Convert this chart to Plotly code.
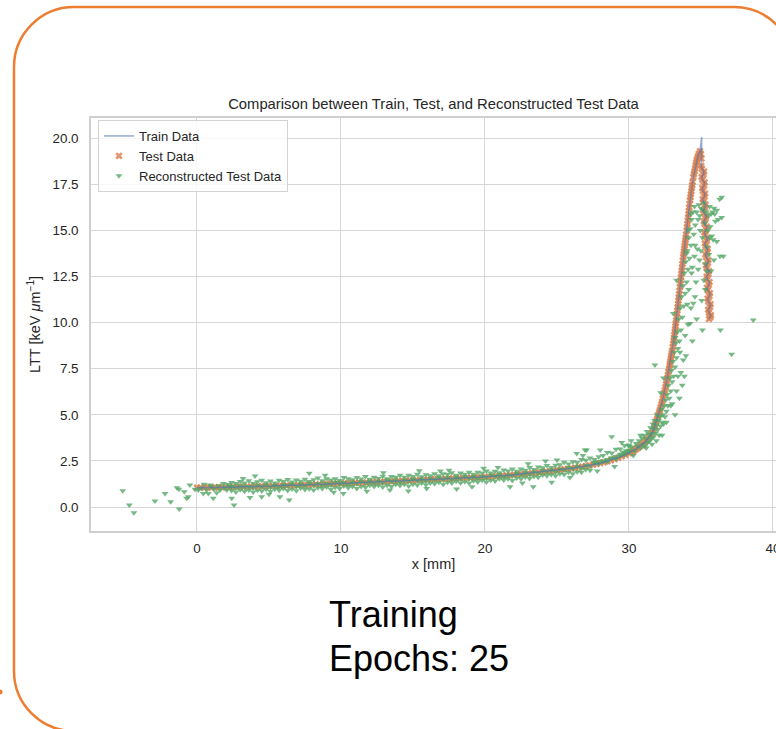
import plotly.graph_objects as go

# ---- LTT depth profile: entrance plateau up to the Bragg peak ----
curve_depth = [
    0.0, 0.25, 0.5, 0.75, 1.0, 1.25, 1.5, 1.75, 2.0,
    2.25, 2.5, 2.75, 3.0, 3.25, 3.5, 3.75, 4.0,
    4.25, 4.5, 4.75, 5.0, 5.25, 5.5, 5.75, 6.0,
    6.25, 6.5, 6.75, 7.0, 7.25, 7.5, 7.75, 8.0,
    8.25, 8.5, 8.75, 9.0, 9.25, 9.5, 9.75, 10.0,
    10.25, 10.5, 10.75, 11.0, 11.25, 11.5, 11.75, 12.0,
    12.25, 12.5, 12.75, 13.0, 13.25, 13.5, 13.75, 14.0,
    14.25, 14.5, 14.75, 15.0, 15.25, 15.5, 15.75, 16.0,
    16.25, 16.5, 16.75, 17.0, 17.25, 17.5, 17.75, 18.0,
    18.25, 18.5, 18.75, 19.0, 19.25, 19.5, 19.75, 20.0,
    20.25, 20.5, 20.75, 21.0, 21.25, 21.5, 21.75, 22.0,
    22.25, 22.5, 22.75, 23.0, 23.25, 23.5, 23.75, 24.0,
    24.25, 24.5, 24.75, 25.0,
    25.25, 25.5, 25.75, 26.0,
    26.25, 26.5, 26.75, 27.0,
    27.25, 27.5, 27.75, 28.0,
    28.25, 28.5, 28.75, 29.0,
    29.25, 29.5, 29.75, 30.0,
    30.1, 30.2, 30.3, 30.4, 30.5, 30.6, 30.7, 30.8, 30.9, 31.0,
    31.1, 31.2, 31.3, 31.4, 31.5, 31.6, 31.7,
    31.75, 31.8, 31.85, 31.9, 31.95, 32.0, 32.05, 32.1, 32.15,
    32.2, 32.25, 32.3, 32.35, 32.4, 32.45, 32.5,
    32.54, 32.58, 32.62, 32.66, 32.7, 32.74, 32.78, 32.82, 32.85,
    32.88, 32.91, 32.94, 32.97, 33.0, 33.04, 33.08,
    33.105, 33.13, 33.155, 33.18, 33.205, 33.23, 33.255, 33.28, 33.31,
    33.335, 33.36, 33.385, 33.41, 33.435, 33.46, 33.485, 33.51, 33.54,
    33.565, 33.59, 33.615, 33.64, 33.665, 33.69, 33.715, 33.74, 33.77,
    33.795, 33.82, 33.845, 33.87, 33.895, 33.92, 33.945, 33.97, 34.01,
    34.035, 34.06, 34.085, 34.11, 34.135, 34.16, 34.185, 34.21, 34.24,
    34.27, 34.3, 34.33, 34.36, 34.39, 34.42, 34.47,
    34.51, 34.55, 34.59, 34.63, 34.67, 34.7,
    34.75, 34.8, 34.86, 34.93,
]
curve_ltt = [
    1.05, 1.05, 1.06, 1.06, 1.06, 1.07, 1.07, 1.08, 1.08,
    1.08, 1.09, 1.09, 1.10, 1.10, 1.11, 1.11, 1.12,
    1.12, 1.13, 1.13, 1.14, 1.14, 1.15, 1.15, 1.16,
    1.17, 1.17, 1.18, 1.19, 1.20, 1.20, 1.21, 1.22,
    1.23, 1.23, 1.24, 1.25, 1.26, 1.26, 1.27, 1.28,
    1.29, 1.29, 1.30, 1.31, 1.32, 1.32, 1.33, 1.34,
    1.35, 1.36, 1.36, 1.37, 1.38, 1.39, 1.40, 1.41,
    1.42, 1.43, 1.44, 1.45, 1.46, 1.47, 1.48, 1.49,
    1.50, 1.51, 1.51, 1.52, 1.53, 1.54, 1.55, 1.56,
    1.57, 1.58, 1.58, 1.59, 1.60, 1.61, 1.62, 1.63,
    1.64, 1.66, 1.67, 1.69, 1.70, 1.72, 1.73, 1.75,
    1.77, 1.78, 1.80, 1.82, 1.84, 1.86, 1.88, 1.90,
    1.92, 1.95, 1.97, 2.00,
    2.02, 2.05, 2.07, 2.10,
    2.13, 2.16, 2.19, 2.22,
    2.26, 2.30, 2.34, 2.38,
    2.43, 2.48, 2.54, 2.60,
    2.67, 2.75, 2.83, 2.92,
    2.96, 3.00, 3.05, 3.10, 3.15, 3.21, 3.26, 3.32, 3.38, 3.45,
    3.53, 3.61, 3.70, 3.80, 3.90, 4.03, 4.17,
    4.29, 4.41, 4.53, 4.65, 4.77, 4.89, 5.01, 5.14, 5.26,
    5.41, 5.57, 5.72, 5.88, 6.03, 6.19, 6.34,
    6.51, 6.67, 6.84, 7.00, 7.17, 7.34, 7.50, 7.67, 7.79,
    7.93, 8.07, 8.21, 8.35, 8.49, 8.68, 8.87,
    9.03, 9.18, 9.34, 9.50, 9.65, 9.81, 9.97, 10.12, 10.31,
    10.49, 10.66, 10.84, 11.02, 11.20, 11.37, 11.55, 11.73, 11.94,
    12.12, 12.29, 12.47, 12.65, 12.83, 13.00, 13.18, 13.36, 13.57,
    13.72, 13.87, 14.02, 14.17, 14.32, 14.47, 14.62, 14.77, 15.00,
    15.18, 15.36, 15.53, 15.71, 15.89, 16.07, 16.25, 16.43, 16.64,
    16.80, 16.97, 17.13, 17.30, 17.46, 17.63, 17.90,
    18.06, 18.21, 18.37, 18.53, 18.68, 18.80,
    18.93, 19.05, 19.17, 19.30,
]

# spike of the training profile right at the peak
spike_depth = [35.05]
spike_ltt = [20.07]

# distal fall-off band behind the peak
tail_depth = [
    35.0, 35.03, 35.02, 35.21, 35.05, 35.25, 35.09, 35.28, 35.12, 35.32,
    35.15, 35.36, 35.2, 35.4, 35.24, 35.44, 35.27, 35.47, 35.31, 35.51,
    35.35, 35.55, 35.39, 35.59, 35.42, 35.62, 35.46, 35.66, 35.5, 35.69,
    35.56,
]
tail_ltt = [
    19.15, 18.9, 18.5, 18.2, 17.9, 17.6, 17.3, 17.0, 16.7, 16.4,
    16.1, 15.8, 15.5, 15.2, 14.9, 14.6, 14.3, 14.0, 13.7, 13.4,
    13.1, 12.8, 12.5, 12.2, 11.9, 11.6, 11.3, 11.0, 10.7, 10.4,
    10.2,
]
# further samples inside the fall-off band
tail_fill_depth = [
    35.06, 35.18, 35.10, 35.22, 35.13, 35.25, 35.17, 35.29, 35.21, 35.33,
    35.25, 35.37, 35.29, 35.41, 35.32, 35.44, 35.36, 35.48, 35.40, 35.52,
    35.44, 35.55, 35.47, 35.59, 35.51, 35.63, 35.55, 35.65,
]
tail_fill_ltt = [
    18.35, 18.05, 17.75, 17.45, 17.15, 16.85, 16.55, 16.25, 15.95, 15.65,
    15.35, 15.05, 14.75, 14.45, 14.15, 13.85, 13.55, 13.25, 12.95, 12.65,
    12.35, 12.05, 11.75, 11.45, 11.15, 10.85, 10.55, 10.30,
]

# ---- reconstructed test data ----
# dense band along the plateau (three rows: above, on and below the profile)
band_depth = [
    2.4, 2.7, 3.0, 3.3, 3.6, 3.9, 4.2, 4.5, 4.8, 5.1,
    5.4, 5.7, 6.0, 6.3, 6.6, 6.9, 7.2, 7.5, 7.8, 8.1,
    8.4, 8.7, 9.0, 9.3, 9.6, 9.9, 10.2, 10.5, 10.8, 11.1,
    11.4, 11.7, 12.0, 12.3, 12.6, 12.9, 13.2, 13.5, 13.8, 14.1,
    14.4, 14.7, 15.0, 15.3, 15.6, 15.9, 16.2, 16.5, 16.8, 17.1,
    17.4, 17.7, 18.0, 18.3, 18.6, 18.9, 19.2, 19.5, 19.8, 20.1,
    20.4, 20.7, 21.0, 21.3, 21.6, 21.9, 22.2, 22.5, 22.8, 23.1,
    23.4, 23.7, 24.0, 24.3, 24.6, 24.9, 25.2, 25.5, 25.8, 26.1,
    26.4, 26.7, 27.0, 27.3, 27.6, 27.9, 28.2, 28.5, 28.8, 29.1,
    29.4, 29.7, 30.0,
]
band_upper = [
    1.33, 1.27, 1.38, 1.30, 1.42, 1.29, 1.37, 1.45, 1.32, 1.41,
    1.31, 1.45, 1.38, 1.50, 1.36, 1.47, 1.40, 1.51, 1.38, 1.48,
    1.57, 1.43, 1.54, 1.47, 1.54, 1.44, 1.60, 1.53, 1.48, 1.60,
    1.52, 1.65, 1.51, 1.61, 1.55, 1.67, 1.54, 1.66, 1.62, 1.72,
    1.61, 1.72, 1.65, 1.78, 1.64, 1.75, 1.69, 1.81, 1.70, 1.81,
    1.77, 1.86, 1.73, 1.84, 1.78, 1.89, 1.78, 1.89, 1.84, 1.95,
    1.84, 1.94, 1.86, 2.01, 1.96, 2.06, 1.94, 2.06, 2.00, 2.14,
    2.04, 2.17, 2.13, 2.25, 2.14, 2.27, 2.30, 2.43, 2.33, 2.46,
    2.42, 2.58, 2.54, 2.66, 2.58, 2.73, 2.79, 2.96, 2.93, 3.13,
    3.15, 3.34, 3.37,
]
band_mid = [
    1.12, 1.04, 1.16, 1.08, 1.12, 1.05, 1.17, 1.10, 1.20, 1.09,
    1.17, 1.09, 1.20, 1.16, 1.24, 1.12, 1.23, 1.16, 1.29, 1.20,
    1.27, 1.18, 1.26, 1.21, 1.34, 1.25, 1.34, 1.22, 1.32, 1.27,
    1.38, 1.31, 1.38, 1.29, 1.39, 1.32, 1.45, 1.38, 1.45, 1.34,
    1.45, 1.40, 1.51, 1.43, 1.51, 1.43, 1.53, 1.46, 1.59, 1.51,
    1.59, 1.48, 1.58, 1.53, 1.64, 1.56, 1.64, 1.55, 1.65, 1.59,
    1.72, 1.65, 1.74, 1.64, 1.74, 1.70, 1.82, 1.75, 1.84, 1.77,
    1.88, 1.83, 1.98, 1.91, 2.01, 1.91, 2.05, 2.01, 2.15, 2.08,
    2.20, 2.11, 2.26, 2.22, 2.40, 2.34, 2.48, 2.44, 2.64, 2.60,
    2.79, 2.83, 2.98,
]
band_lower = [
    0.90, 0.82, 0.94, 0.86, 0.93, 0.81, 0.91, 0.87, 0.97, 0.85,
    0.96, 0.91, 1.01, 0.89, 0.98, 0.88, 1.03, 0.95, 0.99, 0.93,
    1.05, 1.00, 1.09, 0.96, 1.07, 1.01, 1.14, 1.04, 1.11, 1.00,
    1.11, 1.07, 1.18, 1.11, 1.18, 1.08, 1.18, 1.12, 1.24, 1.17,
    1.24, 1.14, 1.24, 1.20, 1.31, 1.21, 1.30, 1.26, 1.35, 1.23,
    1.35, 1.31, 1.40, 1.30, 1.37, 1.30, 1.42, 1.36, 1.45, 1.36,
    1.45, 1.41, 1.53, 1.47, 1.53, 1.44, 1.58, 1.53, 1.63, 1.55,
    1.65, 1.62, 1.74, 1.69, 1.77, 1.70, 1.81, 1.77, 1.88, 1.81,
    1.92, 1.89, 2.03, 2.00, 2.40, 2.45, 2.50, 2.58, 2.66, 2.74,
    2.86, 2.97, 3.08,
]

# sparse points before / at the entrance
sparse_depth = [
    -5.16, -4.70, -4.38, -2.92, -2.22, -1.83, -1.23, -1.39, -1.25, -0.88,
    -0.72, -0.60, -0.49, -0.14, 0.09, 0.44, 0.49, 0.67, 0.79, 1.02,
    1.13, 1.37, 1.60, 1.83, 2.06, 2.29, 1.20, 1.50, 0.30, 0.90,
    1.90, 2.15,
]
sparse_ltt = [
    0.88, 0.11, -0.31, 0.33, 0.74, 0.29, -0.11, 1.05, 0.97, 0.83,
    0.47, 0.56, 1.19, 0.96, 0.92, 0.74, 1.23, 0.92, 0.74, 1.10,
    0.47, 0.78, 0.92, 1.28, 0.92, 1.10, 0.98, 1.15, 1.02, 1.20,
    1.05, 1.22,
]

# stray points around the plateau band
stray_depth = [
    2.41, 2.57, 3.68, 4.49, 5.76, 6.41, 7.80, 4.03, 10.16, 12.94,
    15.44, 14.68, 13.40, 15.95, 18.03, 21.74, 23.35, 24.63, 26.37, 27.06,
    26.94, 28.80, 3.20, 5.00, 8.90, 11.80, 16.90, 19.10, 20.90, 22.60,
    24.20, 25.90, 26.80, 28.00, 29.50, 9.50, 17.50, 19.90, 23.00, 25.00,
    27.80, 29.00,
]
stray_ltt = [
    0.47, 0.11, 0.52, 0.56, 0.56, 0.38, 1.83, 1.68, 0.74, 1.86,
    1.97, 0.87, 0.92, 1.01, 0.98, 1.10, 1.10, 1.34, 2.91, 3.09,
    3.09, 3.81, 1.55, 0.70, 1.72, 0.85, 1.95, 1.10, 2.15, 1.30,
    2.50, 1.60, 2.80, 3.10, 3.50, 0.80, 2.00, 2.10, 2.35, 2.55,
    1.95, 2.20,
]

# rising edge, peak and fall-off region
peak_depth = [
    30.2, 30.4, 30.5, 30.6, 30.7, 30.8, 30.9, 31.0, 31.05, 31.1,
    31.2, 31.25, 31.3, 31.4, 31.45, 31.5, 31.55, 31.6, 31.65, 31.7,
    31.75, 31.8, 31.85, 31.9, 31.95, 32.0, 32.05, 32.1, 32.15, 32.2,
    32.25, 32.3, 32.35, 32.4, 32.45, 32.5, 32.55, 32.6, 32.65, 32.7,
    32.75, 32.8, 32.85, 32.9, 32.95, 33.0, 33.05, 33.1, 33.15, 33.2,
    33.25, 33.3, 33.35, 33.4, 33.45, 33.5, 33.55, 33.6, 33.65, 33.7,
    33.75, 33.8, 33.85, 33.9, 33.95, 34.0, 34.05, 34.1, 34.15, 34.2,
    34.25, 34.3, 34.35, 34.4, 34.45, 34.5, 34.55, 34.6, 34.65, 34.7,
    34.75, 34.8, 34.85, 34.9, 34.95, 35.0, 35.05, 35.1, 35.15, 35.2,
    35.25, 35.3, 35.35, 35.4, 35.45, 35.5, 35.55, 35.6, 35.65, 35.7,
    35.75, 35.8, 35.85, 35.9, 35.95, 36.0, 36.1, 36.2, 36.3, 36.32,
    36.35, 36.44, 36.44, 36.55, 37.13, 38.63, 31.8, 32.4, 33.08, 33.54,
    33.77, 33.3, 34.24, 34.47, 34.58, 34.35, 34.0, 34.1, 32.2, 32.6,
    31.9, 33.0, 33.4, 34.6, 34.9, 35.2, 35.6, 35.9, 34.3, 35.0,
    35.4, 34.8, 34.15, 33.9, 33.6, 34.7, 35.3, 35.1, 34.4, 36.1,
    35.7, 34.55, 34.05, 33.2, 32.9, 32.3, 31.6, 31.2, 30.8, 30.3,
    30.0, 29.8, 29.6, 30.15, 33.3, 33.7, 33.95, 34.1, 33.5, 34.3,
    33.85, 33.2,
]
peak_ltt = [
    3.25, 3.05, 3.45, 3.3, 3.6, 3.2, 3.75, 3.4, 3.9, 3.3,
    3.7, 4.1, 3.5, 3.95, 3.6, 4.3, 3.75, 4.0, 4.5, 3.8,
    4.25, 4.7, 4.0, 4.45, 5.0, 4.2, 4.7, 3.9, 4.9, 4.4,
    5.3, 4.6, 5.0, 4.5, 5.5, 4.9, 5.8, 5.2, 6.1, 5.5,
    6.6, 5.9, 7.0, 6.3, 7.4, 6.8, 7.9, 7.1, 8.4, 7.6,
    8.9, 8.1, 9.5, 8.6, 10.2, 9.0, 10.8, 9.6, 11.4, 10.3,
    12.0, 10.9, 12.7, 11.6, 13.3, 12.2, 13.9, 12.9, 14.6, 13.5,
    15.1, 14.2, 15.6, 13.0, 16.0, 14.8, 16.3, 15.3, 12.2, 16.0,
    14.0, 15.6, 16.4, 13.4, 15.0, 16.2, 11.2, 14.6, 16.1, 12.3,
    15.4, 13.2, 16.0, 14.1, 15.0, 15.8, 13.7, 14.6, 15.2, 12.8,
    14.7, 16.0, 14.5, 13.4, 15.9, 15.5, 16.1, 15.6, 16.7, 13.6,
    9.6, 15.7, 16.8, 13.6, 8.28, 10.14, 7.7, 7.0, 10.5, 8.4,
    7.97, 12.3, 9.96, 11.05, 11.4, 12.7, 13.76, 15.0, 6.2, 4.6,
    3.6, 5.6, 7.1, 14.2, 15.8, 16.5, 16.3, 16.2, 15.9, 13.9,
    12.8, 12.9, 11.8, 9.3, 7.3, 10.2, 11.8, 9.6, 9.0, 14.4,
    15.9, 13.6, 11.0, 9.2, 5.5, 3.9, 3.4, 3.2, 3.9, 2.8,
    3.3, 3.05, 2.95, 3.6, 6.3, 6.6, 8.2, 9.9, 5.9, 10.8,
    7.1, 5.0,
]

x_ticks = [0, 10, 20, 30, 40]
y_ticks = [0, 2.5, 5, 7.5, 10, 12.5, 15, 17.5, 20]

for a, b in [(curve_depth, curve_ltt), (tail_depth, tail_ltt),
             (tail_fill_depth, tail_fill_ltt),
             (band_depth, band_upper), (band_depth, band_mid),
             (band_depth, band_lower), (sparse_depth, sparse_ltt),
             (stray_depth, stray_ltt), (peak_depth, peak_ltt)]:
    assert len(a) == len(b), (len(a), len(b))

# ---- assemble series ----
# fall-off samples of the training run, walked from high to low LTT
falloff = sorted(zip(tail_depth + tail_fill_depth, tail_ltt + tail_fill_ltt),
                 key=lambda p: -p[1])
train_x = curve_depth + spike_depth + [p[0] for p in falloff]
train_y = curve_ltt + spike_ltt + [p[1] for p in falloff]
test_x = curve_depth + tail_depth + tail_fill_depth
test_y = curve_ltt + tail_ltt + tail_fill_ltt
recon_x = band_depth * 3 + sparse_depth + stray_depth + peak_depth
recon_y = band_upper + band_mid + band_lower + sparse_ltt + stray_ltt + peak_ltt

# ---- page geometry ----
FONT = "Liberation Sans, Arial, Helvetica, sans-serif"
INK = "#262626"
GRID = "#d7d7d7"
W, H = 776, 729
ML, MR, MT, MB = 91, 0, 118, 198
PW, PH = W - ML - MR, H - MT - MB


def pxx(v):
    return (v - ML) / PW


def pxy(v):
    return (H - MB - v) / PH


def slide_frame(x0, y0, x1, y1, r, far=900):
    """Open outline of the rounded slide box; its lower-right part runs off the page."""
    k = 0.5523 * r
    p = lambda x, y: f"{pxx(x):.5f},{pxy(y):.5f}"
    return (
        f"M {p(x1, far)} L {p(x1, y0 + r)} "
        f"C {p(x1, y0 + r - k)} {p(x1 - r + k, y0)} {p(x1 - r, y0)} "
        f"L {p(x0 + r, y0)} "
        f"C {p(x0 + r - k, y0)} {p(x0, y0 + r - k)} {p(x0, y0 + r)} "
        f"L {p(x0, y1 - r)} "
        f"C {p(x0, y1 - r + k)} {p(x0 + r - k, y1)} {p(x0 + r, y1)} "
        f"L {p(far, y1)}"
    )


fig = go.Figure()

fig.add_trace(go.Scatter(
    x=test_x, y=test_y, mode="markers", name="Test Data", legendrank=2,
    marker=dict(symbol="x", size=6.5, color="#DD8452", opacity=0.85,
                line=dict(width=0)),
))
fig.add_trace(go.Scatter(
    x=recon_x, y=recon_y, mode="markers", name="Reconstructed Test Data",
    legendrank=3,
    marker=dict(symbol="triangle-down", size=6, color="#55A868", opacity=0.8,
                line=dict(width=0)),
))
fig.add_trace(go.Scatter(
    x=train_x, y=train_y, mode="lines", name="Train Data", legendrank=1,
    line=dict(color="rgba(76,114,176,0.6)", width=1.5),
))

axis_common = dict(
    showgrid=True, gridcolor=GRID, gridwidth=1.2, zeroline=False,
    showline=True, linecolor="#cfcfcf", linewidth=1.5, ticks="",
    tickfont=dict(family=FONT, size=13.4, color=INK),
    automargin=False,
)

fig.update_layout(
    width=W, height=H,
    margin=dict(l=ML, r=MR, t=MT, b=MB, pad=0),
    paper_bgcolor="white", plot_bgcolor="white",
    font=dict(family=FONT, color=INK),
    title=dict(
        text="Comparison between Train, Test, and Reconstructed Test Data",
        x=0.5, xref="paper", xanchor="center",
        y=1 - 104 / H, yref="container", yanchor="middle",
        font=dict(family=FONT, size=14.8, color=INK),
    ),
    xaxis=dict(
        range=[-7.36, 40.21], tickvals=x_ticks, mirror=True,
        ticklabelstandoff=4, ticklabeloverflow="allow",
        title=dict(text="x [mm]", font=dict(family=FONT, size=14.5, color=INK),
                   standoff=4),
        **axis_common,
    ),
    yaxis=dict(
        range=[-1.30, 21.10], tickvals=y_ticks, tickformat=".1f", mirror=False,
        ticklabelstandoff=8,
        title=dict(text="LTT [keV <i>μ</i>m<sup>−1</sup>]",
                   font=dict(family=FONT, size=14.5, color=INK), standoff=8),
        **axis_common,
    ),
    legend=dict(
        x=pxx(98), y=pxy(120), xanchor="left", yanchor="top",
        bgcolor="rgba(255,255,255,0.8)", bordercolor="#d3d3d3", borderwidth=1,
        font=dict(family=FONT, size=13, color=INK),
    ),
    shapes=[
        dict(type="path", xref="paper", yref="paper",
             path=slide_frame(14, 7, 794, 731, 60),
             line=dict(color="#ED7D31", width=2.5), fillcolor="rgba(0,0,0,0)",
             layer="above"),
        dict(type="circle", xref="paper", yref="paper",
             x0=pxx(-2.5), x1=pxx(2.5), y0=pxy(689.5), y1=pxy(694.5),
             line=dict(width=0), fillcolor="#ED7D31", layer="above"),
    ],
    annotations=[
        dict(text="Training", xref="paper", yref="paper",
             x=pxx(327), y=pxy(614), xanchor="left", yanchor="middle",
             showarrow=False, font=dict(family=FONT, size=36, color="black")),
        dict(text="Epochs: 25", xref="paper", yref="paper",
             x=pxx(327), y=pxy(658), xanchor="left", yanchor="middle",
             showarrow=False, font=dict(family=FONT, size=36, color="black")),
    ],
)

fig.write_html("out.html")
